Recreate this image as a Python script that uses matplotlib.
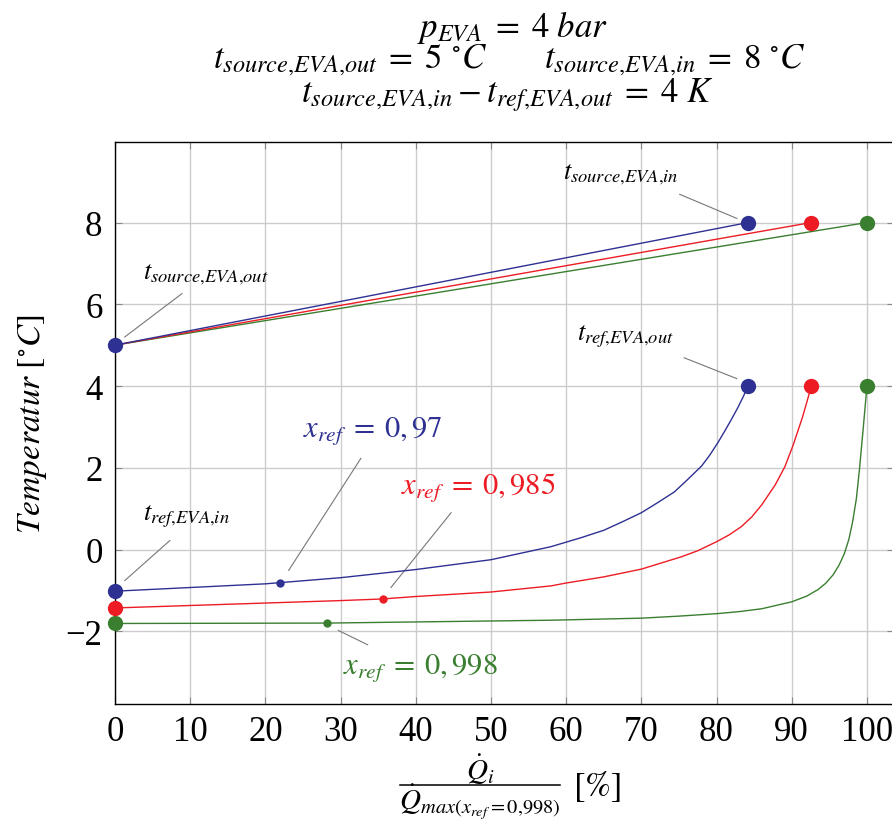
import numpy as np
import matplotlib
matplotlib.use("Agg")
import matplotlib.pyplot as plt
from matplotlib.lines import Line2D

plt.rcParams['font.family'] = ['Liberation Serif', 'DejaVu Serif']
plt.rcParams['mathtext.fontset'] = 'stix'

# 数据
src_x_blue = [0, 84.2]
src_x_red = [0, 92.6]
src_x_green = [0, 100]
src_y = [5, 8]

ref_x_blue = [0, 10, 20, 22, 30, 40, 50, 58, 62, 65, 67.5, 70, 72.2, 74.4, 76.2, 78,
              79.1, 80.2, 81.1, 82, 82.8, 83.5, 84.2]
ref_y_blue = [-1.02, -0.93, -0.84, -0.81, -0.69, -0.49, -0.25, 0.07, 0.29, 0.47, 0.68,
              0.9, 1.15, 1.41, 1.72, 2.04, 2.31, 2.62, 2.90, 3.19, 3.46, 3.72, 4.0]
ref_x_red = [0, 10, 20, 30, 35.6, 40, 50, 58, 60, 65, 70, 75.3, 77.5, 80, 81.7, 83.3,
             84.7, 86, 87.8, 89.1, 90.2, 91.4, 92.0, 92.6]
ref_y_red = [-1.43, -1.37, -1.31, -1.25, -1.21, -1.15, -1.04, -0.89, -0.82, -0.67,
             -0.48, -0.18, -0.03, 0.19, 0.36, 0.56, 0.80, 1.09, 1.58, 2.03, 2.56,
             3.22, 3.6, 4.0]
ref_x_green = [0, 28.2, 58, 70, 75, 80, 83, 86, 90, 92, 93.5, 94.5, 95.5, 96.3, 97.0,
               97.6, 98.1, 98.6, 99.0, 99.5, 100]
ref_y_green = [-1.81, -1.80, -1.73, -1.68, -1.63, -1.57, -1.52, -1.45, -1.28, -1.14,
               -0.98, -0.83, -0.62, -0.38, -0.10, 0.25, 0.68, 1.25, 1.95, 2.95, 4.0]

mark_x = [22, 35.6, 28.2]
mark_y = [-0.81, -1.21, -1.80]

c_blue = '#2e3192'
c_red = '#ed1c24'
c_green = '#3a7f30'

fig = plt.figure(figsize=(8.92, 8.2), dpi=100)
ax = fig.add_axes([115/892, 115/820, 779/892, 562/820])

series = [
    (src_x_green, ref_x_green, ref_y_green, c_green),
    (src_x_red, ref_x_red, ref_y_red, c_red),
    (src_x_blue, ref_x_blue, ref_y_blue, c_blue),
]
for sx, rx, ry, c in series:
    ax.plot(sx, src_y, color=c, lw=1.0, zorder=3)
    ax.plot(sx[-1], src_y[-1], 'o', color=c, ms=10, zorder=4)
    ax.plot(rx, ry, color=c, lw=1.0, zorder=3)
    ax.plot(rx[-1], ry[-1], 'o', color=c, ms=10, zorder=4)
    ax.plot(rx[0], ry[0], 'o', color=c, ms=10, zorder=4, clip_on=False)
ax.plot(0, 5, 'o', color=c_blue, ms=10, zorder=5, clip_on=False)

for mx, my, c in zip(mark_x, mark_y, [c_blue, c_red, c_green]):
    ax.plot(mx, my, 'o', color=c, ms=5, zorder=5)

ax.set_xlim(0, 103.6)
ax.set_ylim(-3.78, 9.97)
ax.set_xticks(range(0, 101, 10))
ax.set_yticks([-2, 0, 2, 4, 6, 8])
ax.grid(True, color='#cccccc', lw=1.0)
ax.set_axisbelow(True)
ax.tick_params(direction='in', length=5, color='#888888', labelsize=25,
               top=True, right=True)
ax.tick_params(axis='x', pad=8)
ax.tick_params(axis='y', pad=9)
for s in ax.spines.values():
    s.set_linewidth(1.0)

# 注释
gl = dict(color='#777777', lw=0.8)
ax.plot([1.3, 8.9], [5.2, 6.26], **gl)
ax.text(3.7, 6.75, r'$t_{source{,}EVA{,}out}$', fontsize=19, va='center', ha='left')
ax.plot([75.1, 82.7], [8.69, 8.1], **gl)
ax.text(59.6, 9.2, r'$t_{source{,}EVA{,}in}$', fontsize=19, va='center', ha='left')
ax.plot([75.7, 82.7], [4.69, 4.18], **gl)
ax.text(61.5, 5.23, r'$t_{ref{,}EVA{,}out}$', fontsize=19, va='center', ha='left')
ax.plot([1.3, 7.3], [-0.76, 0.22], **gl)
ax.text(3.7, 0.83, r'$t_{ref{,}EVA{,}in}$', fontsize=19, va='center', ha='left')
ax.plot([32.7, 23.1], [2.23, -0.51], **gl)
ax.text(25.0, 2.92, r'$x_{ref}\;=\;0,97$', fontsize=22, va='center', ha='left', color=c_blue)
ax.plot([44.7, 36.7], [0.9, -0.93], **gl)
ax.text(38.0, 1.54, r'$x_{ref}\;=\;0,985$', fontsize=22, va='center', ha='left', color=c_red)
ax.plot([29.7, 33.6], [-1.98, -2.33], **gl)
ax.text(30.3, -2.87, r'$x_{ref}\;=\;0,998$', fontsize=22, va='center', ha='left', color=c_green)

ax.set_ylabel(r'$Temperatur\ [^{\circ}C]$', fontsize=24, labelpad=12)

# x轴标签（分式手动排版）
fig.text(480/892, 1 - 780/820, r'$\dot{Q}_i$', fontsize=21, ha='center', va='baseline')
fig.add_artist(Line2D([400/892, 560/892], [1 - 786/820, 1 - 786/820],
                      color='black', lw=1.1, transform=fig.transFigure))
fig.text(480/892, 1 - 810/820, r'$\dot{Q}_{max(x_{ref}=0{,}998)}$', fontsize=21,
         ha='center', va='baseline')
fig.text(573/892, 1 - 787/820, r'$[\%]$', fontsize=25, ha='left', va='center')

fig.text(512/892, 1 - 28/820, r'$p_{EVA}\;=\;4\ bar$', fontsize=25, ha='center', va='center')
fig.text(350/892, 1 - 60/820, r'$t_{source{,}EVA{,}out}\;=\;5\ ^{\circ}C$', fontsize=25,
         ha='center', va='center')
fig.text(675/892, 1 - 60/820, r'$t_{source{,}EVA{,}in}\;=\;8\ ^{\circ}C$', fontsize=25,
         ha='center', va='center')
fig.text(507/892, 1 - 95/820,
         r'$t_{source{,}EVA{,}in}-t_{ref{,}EVA{,}out}\;=\;4\ K$', fontsize=25,
         ha='center', va='center')

fig.savefig('out.png', dpi=100)
